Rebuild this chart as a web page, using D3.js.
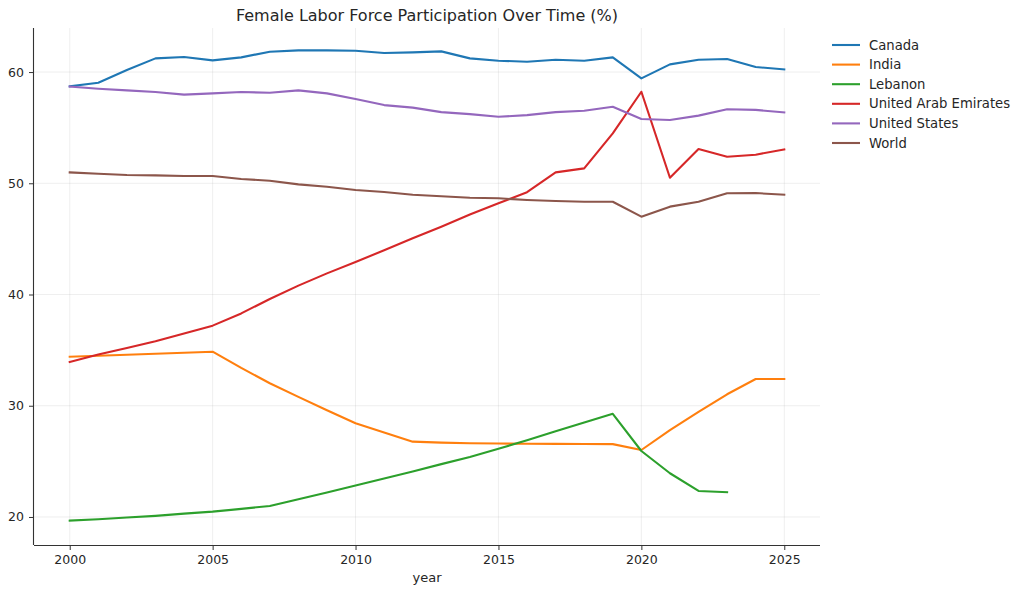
<!DOCTYPE html>
<html><head><meta charset="utf-8">
<script src="https://cdn.jsdelivr.net/npm/d3@7"></script>
<style>body{margin:0;background:#fff;} svg{display:block;font-family:"DejaVu Sans",sans-serif;}</style>
</head><body>
<svg id="c" width="1024" height="592"></svg>
<script>
const years = d3.range(2000, 2026);
const seriesNames = ["Canada","India","Lebanon","United Arab Emirates","United States","World"];
const colors = ["#1f77b4","#ff7f0e","#2ca02c","#d62728","#9467bd","#8c564b"];
const canada = [58.71,59.04,60.18,61.23,61.35,61.05,61.32,61.83,61.95,61.95,61.92,61.71,61.77,61.86,61.23,61.02,60.93,61.11,61.02,61.32,59.43,60.69,61.11,61.17,60.45,60.24];
const india = [34.41,34.5,34.58,34.67,34.76,34.86,33.4,32.02,30.8,29.6,28.42,27.6,26.77,26.68,26.63,26.6,26.58,26.57,26.56,26.55,26.02,27.8,29.44,31.03,32.4,32.4];
const lebanon = [19.67,19.8,19.95,20.1,20.3,20.48,20.73,20.99,21.6,22.2,22.82,23.45,24.09,24.75,25.4,26.13,26.9,27.7,28.5,29.27,25.93,23.93,22.34,22.22,null,null];
const uae = [33.93,34.6,35.2,35.8,36.5,37.2,38.3,39.6,40.8,41.9,42.92,43.98,45.05,46.1,47.2,48.2,49.2,50.98,51.34,54.49,58.23,50.5,53.08,52.39,52.57,53.05];
const us = [58.7,58.5,58.35,58.2,57.97,58.08,58.2,58.14,58.35,58.08,57.57,57.03,56.8,56.4,56.22,55.98,56.13,56.4,56.52,56.88,55.78,55.69,56.08,56.65,56.6,56.37];
const world = [50.98,50.86,50.74,50.71,50.65,50.65,50.38,50.23,49.9,49.69,49.39,49.21,48.97,48.83,48.7,48.65,48.5,48.4,48.34,48.34,47.0,47.9,48.34,49.1,49.12,48.97];
const xTicks = [2000,2005,2010,2015,2020,2025];
const yTicks = [20,30,40,50,60];
const allSeries = [canada, india, lebanon, uae, us, world];

const svg = d3.select("#c");
const L = 34, R = 820, T = 28, B = 545;
const x = d3.scaleLinear().domain([1998.75, 2026.25]).range([L, R]);
const y = d3.scaleLinear().domain([17.48, 63.96]).range([B, T]);

// grid
const g = svg.append("g");
g.selectAll(".gx").data(xTicks).enter().append("line")
  .attr("x1", d=>x(d)).attr("x2", d=>x(d)).attr("y1", T).attr("y2", B)
  .attr("stroke", "#b0b0b0").attr("stroke-opacity", 0.25).attr("stroke-width", 0.8);
g.selectAll(".gy").data(yTicks).enter().append("line")
  .attr("y1", d=>y(d)).attr("y2", d=>y(d)).attr("x1", L).attr("x2", R)
  .attr("stroke", "#b0b0b0").attr("stroke-opacity", 0.25).attr("stroke-width", 0.8);

// axes
const xAxis = d3.axisBottom(x).tickValues(xTicks).tickFormat(d3.format("d")).tickSize(5).tickPadding(5);
const yAxis = d3.axisLeft(y).tickValues(yTicks).tickSize(5).tickPadding(5);
const ax = svg.append("g").attr("transform", `translate(0,${B})`).call(xAxis);
const ay = svg.append("g").attr("transform", `translate(${L},0)`).call(yAxis);
[ax, ay].forEach(a => {
  a.selectAll("path").attr("stroke", "#333").attr("stroke-width", 1.1);
  a.selectAll("line").attr("stroke", "#333").attr("stroke-width", 1);
  a.selectAll("text").attr("fill", "#262626").style("font-size", "12.5px").style("font-family", "DejaVu Sans");
});
ax.select(".domain").attr("d", `M${L},0.5H${R}`);
ay.select(".domain").attr("d", `M-0.5,${B}V${T}`);

// lines
const line = d3.line().defined(d => d.v != null).x(d => x(d.yr)).y(d => y(d.v));
allSeries.forEach((s, i) => {
  svg.append("path")
    .datum(years.map((yr, j) => ({yr, v: s[j]})))
    .attr("d", line).attr("fill", "none")
    .attr("stroke", colors[i]).attr("stroke-width", 2.1)
    .attr("stroke-linejoin", "round").attr("stroke-linecap", "square");
});

// title & label
svg.append("text").attr("x", (L+R)/2).attr("y", 21).attr("text-anchor", "middle")
  .style("font-size", "16px").attr("fill", "#262626").text("Female Labor Force Participation Over Time (%)");
svg.append("text").attr("x", (L+R)/2).attr("y", 582).attr("text-anchor", "middle")
  .style("font-size", "13px").attr("fill", "#262626").text("year");

// legend
const lg = svg.append("g");
seriesNames.forEach((n, i) => {
  const yy = 45 + i * 19.6;
  lg.append("line").attr("x1", 832).attr("x2", 860).attr("y1", yy).attr("y2", yy)
    .attr("stroke", colors[i]).attr("stroke-width", 2.1);
  lg.append("text").attr("x", 869).attr("y", yy + 4.6).style("font-size", "13.2px")
    .attr("fill", "#262626").text(n);
});
</script>
</body></html>
